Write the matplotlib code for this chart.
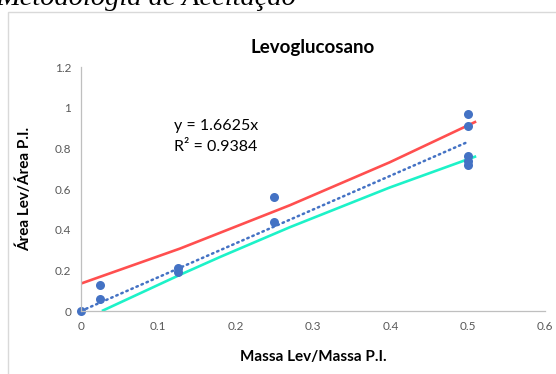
import numpy as np
import matplotlib.pyplot as plt
from matplotlib.patches import Rectangle
from matplotlib.ticker import FuncFormatter

# calibration points (mass ratio vs area ratio)
massa = [0, 0.025, 0.025, 0.125, 0.125, 0.25, 0.25, 0.5, 0.5, 0.5, 0.5, 0.5]
area = [0, 0.13, 0.06, 0.21, 0.19, 0.56, 0.44, 0.97, 0.91, 0.76, 0.74, 0.72]

# trendline through origin
slope = 1.6625
r2 = 0.9384
trend_x = [0, 0.5]

# upper / lower limits
sup_x = [0, 0.128, 0.18, 0.27, 0.399, 0.511]
sup_y = [0.135, 0.307, 0.385, 0.52, 0.731, 0.932]
inf_x = [0.027, 0.128, 0.18, 0.27, 0.399, 0.511]
inf_y = [0, 0.178, 0.266, 0.412, 0.607, 0.761]

plt.rcParams['font.family'] = ['Lato', 'DejaVu Sans']

fig = plt.figure(figsize=(5.56, 3.74), dpi=100)
ax = fig.add_axes([81/556, 1-311/374, (545-81)/556, (311-67)/374])

# chart area border
fig.patches.append(Rectangle((7.5/556, -0.1), 2, 1-12/374+0.1, transform=fig.transFigure,
                             fill=False, edgecolor='#d9d9d9', lw=1))
fig.text(-4/556, 1-5/374, 'Metodologia de Aceitação', family='Liberation Serif',
         style='italic', fontsize=20.5, va='baseline', ha='left', color='black')

ax.plot(sup_x, sup_y, color='#FF4F4F', lw=1.9, solid_capstyle='butt')
ax.plot(inf_x, inf_y, color='#1DF2C8', lw=1.9, solid_capstyle='butt')
tx = np.array(trend_x)
ax.plot(tx, slope*tx, color='#4472C4', lw=1.8, linestyle=(0, (0.6, 1.6)),
        dash_capstyle='round')
ax.plot(massa, area, 'o', color='#4472C4', markersize=6.5, markeredgewidth=0, clip_on=False)

ax.text(0.12, 0.89, f'y = {slope}x', fontsize=11.5)
ax.text(0.12, 0.785, f'R² = {r2}', fontsize=11.5)

ax.set_xlim(0, 0.6)
ax.set_ylim(0, 1.2)
ax.set_xticks(np.arange(0, 0.61, 0.1))
ax.set_yticks(np.arange(0, 1.21, 0.2))
fmt = FuncFormatter(lambda v, p: f'{round(v, 2):g}')
ax.xaxis.set_major_formatter(fmt)
ax.yaxis.set_major_formatter(fmt)
ax.tick_params(length=0, labelsize=8.5, labelcolor='#595959', pad=7)
for s in ['top', 'right']:
    ax.spines[s].set_visible(False)
for s in ['left', 'bottom']:
    ax.spines[s].set_color('#bfbfbf')
    ax.spines[s].set_linewidth(0.9)

ax.set_title('Levoglucosano', fontsize=13.5, fontweight='bold', pad=10)
ax.set_xlabel('Massa Lev/Massa P.I.', fontsize=11, fontweight='bold', labelpad=13)
ax.set_ylabel('Área Lev/Área P.I.', fontsize=11, fontweight='bold', labelpad=16)

fig.savefig('out.png', dpi=100)
